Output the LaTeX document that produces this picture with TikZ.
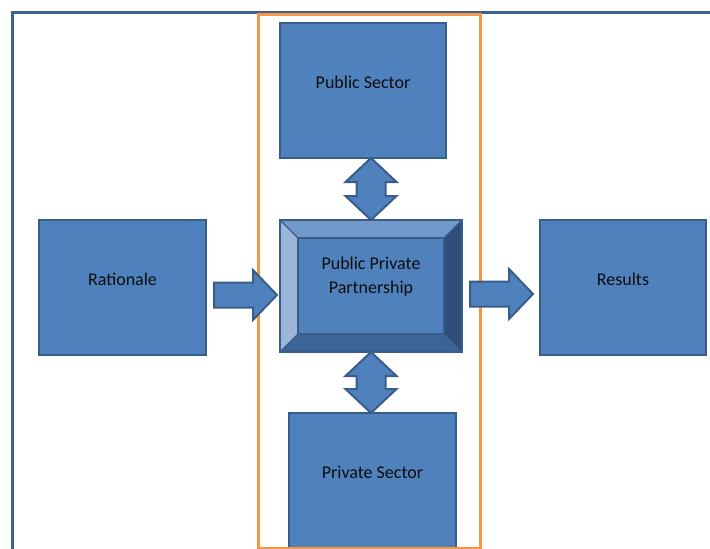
\documentclass[tikz,border=0pt]{standalone}
\usepackage{fontspec}
\setmainfont{Carlito}
\usetikzlibrary{calc}
\definecolor{boxfill}{HTML}{4F81BD}
\definecolor{boxline}{HTML}{385D8A}
\definecolor{framecol}{HTML}{3C6293}
\definecolor{grpcol}{HTML}{F79646}
\definecolor{bevtop}{HTML}{7399CA}
\definecolor{bevleft}{HTML}{9DB5D9}
\definecolor{bevright}{HTML}{2F4F78}
\definecolor{bevbottom}{HTML}{3C6494}
\definecolor{txt}{HTML}{0D0D0D}
\begin{document}
\begin{tikzpicture}[x=1pt,y=-1pt,
  block/.style={draw=boxline, fill=boxfill, line width=2.5pt, inner sep=0pt,
    outer sep=0pt, anchor=north west},
  boxtext/.style={text=txt, align=center, inner sep=0pt,
    font=\fontsize{18}{24}\selectfont},
  blockarrow/.style={draw=boxline, fill=boxfill, line width=2pt, line join=miter},
  facetline/.style={draw=boxline, line width=1.2pt},
  framestyle/.style={draw=framecol, line width=3pt},
  groupframe/.style={draw=grpcol, line width=3pt, inner sep=0pt, outer sep=0pt,
    anchor=north west}]
\useasboundingbox (0,0) rectangle (710,549);
\clip (0,0) rectangle (710,549);
\fill[white] (0,0) rectangle (710,549);

% open page frame along the top and left
\coordinate (fb) at (12,560);
\coordinate (fc) at (12,12);
\coordinate (fr) at (720,12);
\draw[framestyle] (fb) -- (fc) -- (fr);

% boxes
\node[block, minimum width=166, minimum height=135] (ps) at (280,23) {};
\node[block, minimum width=167, minimum height=135] (rat) at (39,220) {};
\node[block, minimum width=166, minimum height=135] (res) at (540,220) {};
\node[block, minimum width=167, minimum height=150] (priv) at (289,413) {};
\node[block, minimum width=182, minimum height=132] (ppp) at (280,220) {};

% bevelled faces of the partnership box
\fill[bevtop] (ppp.north west) -- (ppp.north east) -- ($(ppp.north east)+(-18,18)$) -- ($(ppp.north west)+(18,18)$) -- cycle;
\fill[bevleft] (ppp.north west) -- ($(ppp.north west)+(18,18)$) -- ($(ppp.south west)+(18,-18)$) -- (ppp.south west) -- cycle;
\fill[bevright] (ppp.north east) -- (ppp.south east) -- ($(ppp.south east)+(-18,-18)$) -- ($(ppp.north east)+(-18,18)$) -- cycle;
\fill[bevbottom] (ppp.south west) -- ($(ppp.south west)+(18,-18)$) -- ($(ppp.south east)+(-18,-18)$) -- (ppp.south east) -- cycle;
\draw[facetline] ($(ppp.north west)+(18,18)$) rectangle ($(ppp.south east)+(-18,-18)$);
\draw[facetline] (ppp.north west) -- ($(ppp.north west)+(18,18)$);
\draw[facetline] (ppp.north east) -- ($(ppp.north east)+(-18,18)$);
\draw[facetline] (ppp.south west) -- ($(ppp.south west)+(18,-18)$);
\draw[facetline] (ppp.south east) -- ($(ppp.south east)+(-18,-18)$);
\draw[draw=boxline, line width=2.5pt] (ppp.north west) rectangle (ppp.south east);

% group around the partnership column
\node[groupframe, minimum width=222, minimum height=534] (grp) at (258,14) {};

% labels
\node[boxtext] (ps-t) at ($(ps.north)+(0,59)$) {Public Sector};
\node[boxtext] (rat-t) at ($(rat.north)+(0,59)$) {Rationale};
\node[boxtext] (res-t) at ($(res.north)+(0,59)$) {Results};
\node[boxtext] (priv-t) at ($(priv.north)+(0,59)$) {Private Sector};
\node[boxtext] (ppp-t) at ($(ppp.north)+(0,57)$) {Public Private\\Partnership};

% block arrows
\coordinate (a1) at ($(rat.east)+(8,7.5)$);
\draw[blockarrow] ($(a1)+(0,-12.5)$) -- ++(39,0) -- ++(0,-12.5) -- ++(24,25) -- ++(-24,25) -- ++(0,-12.5) -- ++(-39,0) -- cycle;
\coordinate (a2) at ($(ppp.east)+(8,8)$);
\draw[blockarrow] ($(a2)+(0,-12.5)$) -- ++(39,0) -- ++(0,-12.5) -- ++(24,25) -- ++(-24,25) -- ++(0,-12.5) -- ++(-39,0) -- cycle;
\coordinate (v1) at (ppp.north |- ps.south);
\draw[blockarrow] (v1) -- ++(25.5,24) -- ++(-11,0) -- ++(0,14) -- ++(11,0) -- ++(-25.5,24) -- ++(-25.5,-24) -- ++(11,0) -- ++(0,-14) -- ++(-11,0) -- cycle;
\coordinate (v2) at (ppp.south);
\draw[blockarrow] (v2) -- ++(25.5,24) -- ++(-11,0) -- ++(0,13) -- ++(11,0) -- ++(-25.5,24) -- ++(-25.5,-24) -- ++(11,0) -- ++(0,-13) -- ++(-11,0) -- cycle;
\end{tikzpicture}
\end{document}
